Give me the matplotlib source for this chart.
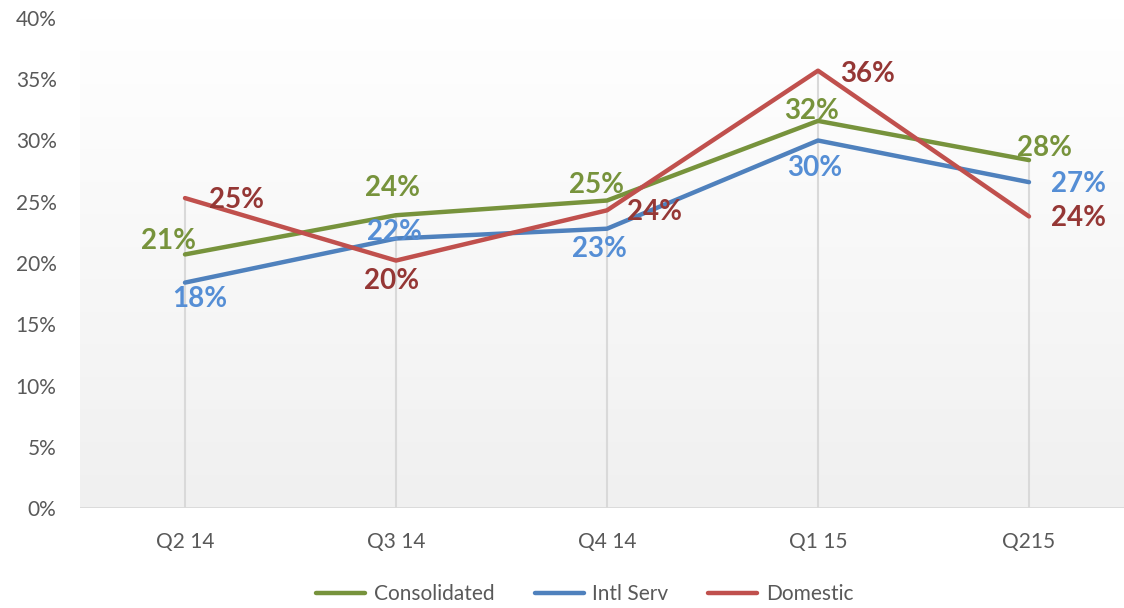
import matplotlib
matplotlib.use("Agg")
import matplotlib.pyplot as plt
import numpy as np
from matplotlib.colors import LinearSegmentedColormap

categories = ["Q2 14", "Q3 14", "Q4 14", "Q1 15", "Q215"]
consolidated = [20.7, 23.9, 25.1, 31.6, 28.4]
intl_serv = [18.4, 22.0, 22.8, 30.0, 26.6]
domestic = [25.3, 20.2, 24.3, 35.7, 23.8]
yticks = [0, 5, 10, 15, 20, 25, 30, 35, 40]

W, H = 1124, 608
fig = plt.figure(figsize=(W / 100, H / 100), dpi=100)
ax = fig.add_axes([79.5 / W, (H - 508) / H, (W - 79.5) / W, 490 / H])

x = np.arange(len(categories))
xl = (-0.5, (W - 185) / 211.0)
ax.set_xlim(*xl)

# gradient background (white at top, light grey at bottom)
cmap = LinearSegmentedColormap.from_list("g", ["#ffffff", "#f0f0f0"])
grad = np.linspace(0, 1, 256).reshape(-1, 1)
ax.imshow(grad, aspect="auto", cmap=cmap, extent=[xl[0], xl[1], 0, 40],
          zorder=0, origin="upper")
ax.set_xlim(*xl)
ax.set_ylim(0, 40)

# drop lines
tops = np.max([consolidated, intl_serv, domestic], axis=0)
ax.vlines(x, 0, tops, color="#d9d9d9", lw=1.5, zorder=1)
ax.axhline(0, color="#d9d9d9", lw=2, zorder=1)

green, blue, red = "#77933c", "#4f81bd", "#c0504d"
ax.plot(x, consolidated, color=green, lw=3.2, label="Consolidated", zorder=3, solid_capstyle="round")
ax.plot(x, intl_serv, color=blue, lw=3.2, label="Intl Serv", zorder=3, solid_capstyle="round")
ax.plot(x, domestic, color=red, lw=3.2, label="Domestic", zorder=3, solid_capstyle="round")

lab_font = dict(fontfamily="Lato", fontweight="bold", fontsize=20, ha="center", va="center", zorder=4)
offs_c = [(-17, 13), (-4, 27), (-11, 16), (-6, 10), (15, 12)]
offs_i = [(15, -16), (-2, 6), (-8, -20), (-3, -27), (50, -2)]
offs_d = [(51, -2), (-4, -20), (48, -2), (50, -3), (50, -2)]
for vals, offs, col in [(consolidated, offs_c, "#77933c"), (intl_serv, offs_i, "#558ed5"),
                        (domestic, offs_d, "#953735")]:
    for xi, v, (dx, dy) in zip(x, vals, offs):
        ax.annotate(f"{round(v):.0f}%", (xi, v), xytext=(dx * 0.72, dy * 0.72),
                    textcoords="offset points", color=col, **lab_font)

ax.set_xticks(x)
ax.set_xticklabels(categories)
ax.set_yticks(yticks)
ax.set_yticklabels([f"{t}%" for t in yticks])
for lab in ax.get_xticklabels() + ax.get_yticklabels():
    lab.set_fontfamily("Lato")
    lab.set_fontsize(15)
    lab.set_color("#595959")
ax.tick_params(axis="both", length=0)
ax.tick_params(axis="y", pad=16.5)
ax.tick_params(axis="x", pad=17)
for s in ax.spines.values():
    s.set_visible(False)

leg = fig.legend(loc="center", bbox_to_anchor=(585 / W, (H - 594) / H), ncol=3, frameon=False,
                 prop=dict(family="Lato", size=15), handlelength=2.35, columnspacing=1.9,
                 handletextpad=0.43)
for t in leg.get_texts():
    t.set_color("#595959")

fig.savefig("out.png", dpi=100)
